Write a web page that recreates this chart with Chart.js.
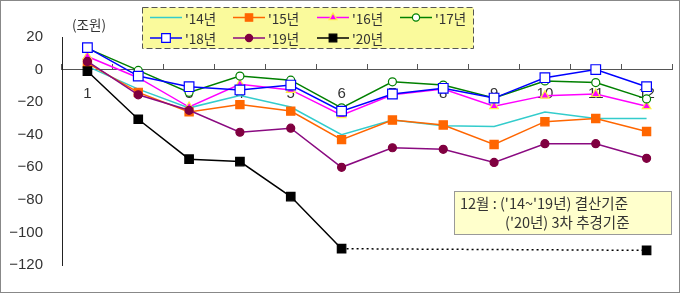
<!DOCTYPE html>
<html>
<head>
<meta charset="utf-8">
<script src="https://cdn.jsdelivr.net/npm/chart.js@4/dist/chart.umd.min.js"></script>
<style>
    html, body { margin: 0; padding: 0; background: #fff; }
    #obal { width: 680px; height: 293px; }
</style>
</head>
<body>
<div id="obal"><canvas id="graf" width="680" height="293"></canvas></div>
<script>
// mesice a hodnoty (조원)
const mesice = ['1', '2', '3', '4', '5', '6', '7', '8', '9', '10', '11', '12'];
const nazvyRad = ["'14년", "'15년", "'16년", "'17년", "'18년", "'19년", "'20년"];
const rada14 = [2, -12, -23.5, -16, -23, -40, -31, -34.5, -35, -26, -30, -30];
const rada15 = [4, -14, -26, -21.5, -25.5, -43, -31, -34, -46, -32, -30, -38];
const rada16 = [8, -5, -23, -9, -12.5, -28, -15.5, -12, -22.5, -16, -15, -22.5];
const rada17 = [13, -0.5, -14, -4, -6.5, -23.5, -7.5, -9.5, -17.5, -7, -8, -18];
const rada18 = [13.5, -4, -10.5, -12.5, -9.5, -25.5, -15, -11.5, -17.5, -5, 0, -10.5];
const rada19 = [5, -15.5, -25, -38.5, -36, -60, -48, -49, -57, -45.5, -45.5, -54.5];
const rada20 = [-1, -30.5, -55, -56.5, -78, -110, null, null, null, null, null, -111];
const osaYTicks = [20, 0, -20, -40, -60, -80, -100, -120];

const poznamka = ["12월 : ('14~'19년) 결산기준", "('20년) 3차 추경기준"];

const pismoCisla = "'Liberation Sans', Arial, sans-serif";
const pismoKor = "'Noto Sans CJK KR', 'Liberation Sans', sans-serif";

function kresliZnacku(ctx, styl, r, x, y, vypln, okraj, sirka) {
    if (!styl || r <= 0) return;
    ctx.beginPath();
    if (styl === 'rect') {
        const s = r * Math.SQRT1_2;
        ctx.rect(x - s, y - s, 2 * s, 2 * s);
    } else if (styl === 'circle') {
        ctx.arc(x, y, r, 0, Math.PI * 2);
    } else if (styl === 'triangle') {
        ctx.moveTo(x, y - r);
        ctx.lineTo(x + r * 0.87, y + r * 0.5);
        ctx.lineTo(x - r * 0.87, y + r * 0.5);
        ctx.closePath();
    }
    ctx.fillStyle = vypln;
    ctx.fill();
    ctx.lineWidth = sirka;
    ctx.strokeStyle = okraj;
    ctx.stroke();
}

const legendaPlugin = {
    id: 'legenda',
    afterDraw(chart) {
        const ctx = chart.ctx;
        const sloupce = [150, 233, 317, 400];
        const radky = [17.5, 38];
        ctx.save();
        ctx.fillStyle = '#fafa9c';
        ctx.fillRect(142.5, 7.5, 331, 41);
        ctx.setLineDash([6, 3]);
        ctx.strokeStyle = '#555';
        ctx.lineWidth = 1;
        ctx.strokeRect(142.5, 7.5, 331, 41);
        ctx.setLineDash([]);
        chart.data.datasets.forEach((ds, i) => {
            const x = sloupce[i % 4];
            const y = radky[Math.floor(i / 4)];
            ctx.beginPath();
            ctx.moveTo(x, y);
            ctx.lineTo(x + 32, y);
            ctx.strokeStyle = ds.borderColor;
            ctx.lineWidth = 1.5;
            ctx.stroke();
            kresliZnacku(ctx, ds.pointStyle, ds.pointRadius * 0.9, x + 16, y,
                ds.pointBackgroundColor, ds.pointBorderColor, ds.pointBorderWidth);
            ctx.fillStyle = '#333';
            ctx.font = '13.5px ' + pismoKor;
            ctx.textBaseline = 'middle';
            ctx.textAlign = 'left';
            ctx.fillText(ds.label, x + 35, y + 1);
        });

        // jednotka osy
        ctx.fillStyle = '#333';
        ctx.font = '13.5px ' + pismoKor;
        ctx.textAlign = 'center';
        ctx.fillText('(조원)', 89, 25);

        // poznamka vpravo dole
        ctx.fillStyle = '#ffffcc';
        ctx.fillRect(454.5, 191.5, 217, 43);
        ctx.strokeStyle = '#999';
        ctx.lineWidth = 1;
        ctx.strokeRect(454.5, 191.5, 217, 43);
        ctx.fillStyle = '#333';
        ctx.textAlign = 'left';
        ctx.font = '14.5px ' + pismoKor;
        ctx.fillText(poznamka[0], 460, 203);
        ctx.fillText(poznamka[1], 505, 222);

        // ramecek obrazku
        ctx.strokeStyle = '#888';
        ctx.strokeRect(0.5, 0.5, 679, 292);
        ctx.restore();
    }
};

function rada(label, data, barva, styl, r, vypln, okraj, poradi) {
    return {
        label: label,
        data: data,
        borderColor: barva,
        borderWidth: 1.5,
        pointStyle: styl,
        pointRadius: r,
        pointHoverRadius: r,
        pointBackgroundColor: vypln,
        pointBorderColor: okraj,
        pointBorderWidth: 1.2,
        tension: 0,
        fill: false,
        order: poradi
    };
}

const datasety = [
    rada(nazvyRad[0], rada14, '#33cccc', false, 0, '#33cccc', '#33cccc', 7),
    rada(nazvyRad[1], rada15, '#ff6600', 'rect', 5.8, '#ff6600', '#ff6600', 6),
    rada(nazvyRad[2], rada16, '#ff00ff', 'triangle', 5, '#ff00ff', '#ffee44', 5),
    rada(nazvyRad[3], rada17, '#008000', 'circle', 4, '#ffffff', '#008000', 4),
    rada(nazvyRad[4], rada18, '#0000ff', 'rect', 6.8, '#ffffff', '#0000ff', 3),
    rada(nazvyRad[5], rada19, '#8a0a80', 'circle', 4, '#800040', '#800040', 2),
    rada(nazvyRad[6], rada20, '#000000', 'rect', 6, '#000000', '#000000', 1)
];
// prosinec 2020 je spojen teckovane pres chybejici mesice
datasety[6].spanGaps = true;
datasety[6].segment = {
    borderDash: c => (c.p0.skip || c.p1.skip ? [2, 3] : undefined)
};

const ctx = document.getElementById('graf').getContext('2d');
window.graf = new Chart(ctx, {
    type: 'line',
    data: { labels: mesice, datasets: datasety },
    options: {
        responsive: false,
        animation: false,
        events: [],
        layout: { padding: { left: 0, right: 8, top: 37, bottom: 12 } },
        plugins: { legend: { display: false }, tooltip: { enabled: false } },
        scales: {
            x: {
                position: { y: 0 },
                offset: true,
                grid: {
                    drawOnChartArea: false,
                    drawTicks: true,
                    tickLength: -6,
                    color: '#555',
                    offset: true
                },
                border: { color: '#555', width: 1 },
                ticks: {
                    color: '#333',
                    font: { family: pismoCisla, size: 15 },
                    padding: 21,
                    maxRotation: 0,
                    autoSkip: false
                }
            },
            y: {
                min: -120,
                max: 20,
                afterFit: s => { s.width = 62; },
                afterBuildTicks: s => { s.ticks = osaYTicks.map(v => ({ value: v })); },
                grid: { drawOnChartArea: false, drawTicks: false },
                border: { color: '#222', width: 1 },
                ticks: {
                    color: '#333',
                    padding: 19,
                    font: { family: pismoCisla, size: 15 },
                    callback: v => (v < 0 ? '\u2212' + Math.abs(v) : String(v))
                }
            }
        }
    },
    plugins: [legendaPlugin]
});
</script>
</body>
</html>
